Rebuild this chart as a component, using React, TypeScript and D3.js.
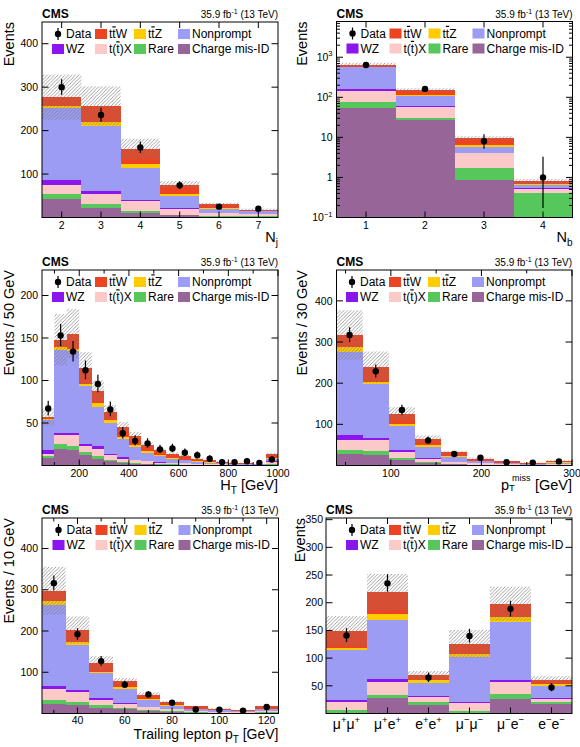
import React from 'react';
import * as d3 from 'd3';

const FONT = "'Liberation Sans', Arial, Helvetica, sans-serif";

// stacking order from bottom: Charge mis-ID, Rare, t(t)X, WZ, Nonprompt, ttZ, ttW
const PROCESS_COLORS = ['#976598', '#56c75b', '#fcc9c9', '#8a15ee', '#9c9cf5', '#ffcc00', '#ec4423'];

// ---------- Panel 1: N_j ----------
const NJ_BINS = [2, 3, 4, 5, 6, 7];
const NJ_DATA = [300, 236, 161, 74, 25, 20];
const NJ_UNC = [52, 45, 23, 8, 3.5, 2.5];
const NJ_CMID = [43, 23, 10.4, 5, 1.5, 1];
const NJ_RARE = [12, 7, 4.6, 1.6, 2, 2];
const NJ_TTX = [20.5, 25, 22, 13.4, 6, 5.5];
const NJ_WZ = [10, 5, 2.5, 2, 0.5, 0.5];
const NJ_NP = [166.5, 150, 75.1, 28, 10.5, 6];
const NJ_TTZ = [4, 9, 9.2, 5, 2.3, 1];
const NJ_TTW = [21, 38, 34.5, 20.5, 7.5, 2];

// ---------- Panel 2: N_b ----------
const NB_BINS = [1, 2, 3, 4];
const NB_DATA = [640, 162, 8, 1];
const NB_UNC = [75, 16, 1.1, 0.12];
const NB_CMID = [54, 26.6, 0.87, 0];
const NB_RARE = [22, 3.8, 0.84, 0.41];
const NB_TTX = [65, 26.6, 2.35, 0.11];
const NB_WZ = [20, 5, 0.05, 0.01];
const NB_NP = [400, 43, 1.5, 0.12];
const NB_TTZ = [14, 7, 0.95, 0.04];
const NB_TTW = [80, 40, 3.05, 0.11];

// ---------- Panel 3: H_T (50 GeV bins, 50-1000) ----------
const HT_DATA = [67, 153, 134, 112, 96, 66, 38, 29, 26, 19, 20, 15, 12, 8, 4, 4, 5, 3, 7];
const HT_UNC = [10, 30, 29, 19, 13, 8, 6, 4.5, 3, 2, 1.5, 1.2, 1, 0.8, 0.6, 0.5, 0.4, 0.3, 1.5];
const HT_CMID = [8.6, 20, 18, 12.6, 8, 5, 3, 2, 1.5, 1, 1, 0.8, 0.5, 0.4, 0.3, 0.3, 0.2, 0.2, 1];
const HT_RARE = [2.8, 5, 5, 2.8, 3, 2, 1.5, 1, 0.7, 0.5, 0.4, 0.2, 0.3, 0.2, 0.2, 0.1, 0.1, 0.1, 0.6];
const HT_TTX = [2.6, 11, 13, 7, 9, 5, 3.5, 3, 2.8, 2, 1.6, 1.5, 1.2, 0.9, 0.7, 0.6, 0.5, 0.3, 2.4];
const HT_WZ = [4.5, 2.5, 2, 3.2, 3, 2, 1.5, 1, 0.5, 0.5, 0.2, 0.2, 0.2, 0.1, 0.1, 0.1, 0.1, 0.1, 1];
const HT_NP = [35.5, 97.9, 96.4, 67.4, 46, 36, 21.5, 15, 9.5, 7, 4.3, 3.3, 2.3, 1.6, 1.2, 0.9, 0.7, 0.5, 2.5];
const HT_TTZ = [1, 2.6, 2.6, 3, 4.5, 3, 2.4, 2, 2, 1, 1, 1, 0.5, 0.4, 0.3, 0.2, 0.2, 0.2, 1];
const HT_TTW = [2, 9, 18, 18.4, 13.8, 10, 11.8, 11, 7, 6, 5.5, 4, 3, 2.4, 1.7, 1.3, 1, 0.8, 5];

// ---------- Panel 4: p_T^miss (9 bins, 40-300) ----------
const MET_DATA = [317, 229, 135, 61, 28, 19, 8, 7, 10];
const MET_UNC = [60, 38, 16, 8, 4, 2.5, 1.5, 1, 1.5];
const MET_CMID = [27, 25, 14.4, 6.4, 3, 1.5, 1, 0.7, 1];
const MET_RARE = [10, 10.4, 4.9, 2.4, 1, 0.7, 0.4, 0.3, 0.5];
const MET_TTX = [24, 25.6, 13.7, 8.2, 4, 2.8, 1.6, 1, 2];
const MET_WZ = [12.3, 6, 4, 2, 1, 0.5, 0.3, 0.2, 0.5];
const MET_NP = [201.7, 131.5, 59, 26, 11, 4.5, 2.2, 1.4, 2.5];
const MET_TTZ = [12, 5.5, 5.6, 4, 2, 1, 0.7, 0.4, 1];
const MET_TTW = [30, 35, 24.2, 16.3, 10, 6, 3.8, 2.5, 4.5];

// ---------- Panel 5: trailing lepton p_T (10 GeV bins, 25-125) ----------
const PT_DATA = [316, 192, 127, 70, 46, 26, 10, 9, 7, 16];
const PT_UNC = [58, 33, 17.5, 8, 5, 3, 2, 1.5, 1, 2];
const PT_CMID = [22, 20, 14.3, 10, 6, 3.5, 2, 1.5, 1, 2];
const PT_RARE = [10.5, 7.8, 5.5, 3.5, 2, 1.5, 1, 0.5, 0.5, 1];
const PT_TTX = [27, 23.8, 11.9, 9.5, 7, 5, 3, 2, 1.5, 3];
const PT_WZ = [6.5, 6.4, 5.6, 3, 1, 1, 0.5, 0.5, 0.2, 1];
const PT_NP = [198, 107, 60.3, 33.5, 17, 8, 4.5, 3, 1.8, 4];
const PT_TTZ = [8, 8, 4, 4, 2, 1.5, 1, 0.5, 0.5, 1];
const PT_TTW = [25.6, 29.4, 19.8, 14.3, 11, 7, 5, 3.5, 2.5, 5];

// ---------- Panel 6: lepton flavour / charge channels ----------
const CH_LABELS = ['μ+μ+', 'μ+e+', 'e+e+', 'μ−μ−', 'μ−e−', 'e−e−'];
const CH_DATA = [141, 235, 65, 140, 189, 47];
const CH_UNC = [27, 33, 8, 25, 31, 6.5];
const CH_CMID = [0, 27.8, 14.6, 0, 26.7, 16.4];
const CH_RARE = [6.5, 4.8, 6, 3.7, 9, 4.2];
const CH_TTX = [15, 23.4, 9, 15.1, 21, 6.1];
const CH_WZ = [2.3, 6.7, 1.2, 2.2, 4.2, 0.8];
const CH_NP = [91, 106.3, 24.7, 80.8, 104.1, 22];
const CH_TTZ = [3, 10, 4.2, 6, 10, 3];
const CH_TTW = [31, 40, 9, 18.1, 23, 8.5];

// tick values
const NJ_YTICKS = [100, 200, 300, 400];
const NB_YTICKS = [0.1, 1, 10, 100, 1000];
const HT_YTICKS = [50, 100, 150, 200];
const MET_YTICKS = [100, 200, 300, 400];
const PT_YTICKS = [100, 200, 300, 400];
const CH_YTICKS = [50, 100, 150, 200, 250, 300, 350];
const HT_XTICKS = [200, 400, 600, 800, 1000];
const HT_XMINOR = [100, 300, 500, 700, 900];
const MET_XTICKS = [100, 200, 300];
const MET_XMINOR = [50, 150, 250];
const PT_XTICKS = [40, 60, 80, 100, 120];
const PT_XMINOR = [30, 50, 70, 90, 110];

type Frame = { x: number; y: number; w: number; h: number };

function garwood(n: number): [number, number] {
  if (n <= 0) return [0, 1.84];
  const lo = n * Math.pow(1 - 1 / (9 * n) - 1 / (3 * Math.sqrt(n)), 3);
  const m = n + 1;
  const hi = m * Math.pow(1 - 1 / (9 * m) + 1 / (3 * Math.sqrt(m)), 3);
  return [lo, hi];
}

const Bar = ({ children }: { children: any }) => (
  <tspan style={{ textDecoration: 'overline' }}>{children}</tspan>
);

const LEGEND = [
  { kind: 'data', color: '', label: <>Data</> },
  { kind: 'box', color: PROCESS_COLORS[6], label: <>t<Bar>t</Bar>W</> },
  { kind: 'box', color: PROCESS_COLORS[5], label: <>t<Bar>t</Bar>Z</> },
  { kind: 'box', color: PROCESS_COLORS[4], label: <>Nonprompt</> },
  { kind: 'box', color: PROCESS_COLORS[3], label: <>WZ</> },
  { kind: 'box', color: PROCESS_COLORS[2], label: <>t(<Bar>t</Bar>)X</> },
  { kind: 'box', color: PROCESS_COLORS[1], label: <>Rare</> },
  { kind: 'box', color: PROCESS_COLORS[0], label: <>Charge mis-ID</> },
];
const LEG_COL = [-226, -183, -144, -100];

function Legend({ frame }: { frame: Frame }) {
  const R = frame.x + frame.w;
  return (
    <g>
      {LEGEND.map((e, i) => {
        const col = i % 4;
        const row = Math.floor(i / 4);
        const bx = R + LEG_COL[col];
        const cy = frame.y + 12 + row * 15;
        return (
          <g key={i}>
            {e.kind === 'data' ? (
              <g>
                <line x1={bx + 6} x2={bx + 6} y1={cy - 6} y2={cy + 6} stroke="#000" strokeWidth={1.2} />
                <circle cx={bx + 6} cy={cy} r={3.2} fill="#000" />
              </g>
            ) : (
              <rect x={bx} y={cy - 5} width={12} height={10} fill={e.color} />
            )}
            <text x={bx + 14} y={cy + 4.3} fontSize={12}>{e.label}</text>
          </g>
        );
      })}
    </g>
  );
}

type PanelProps = {
  id: string;
  frame: Frame;
  edges: number[];
  stacks: number[][];
  data: number[];
  unc: number[];
  log?: boolean;
  yDomain: [number, number];
  yTicks: number[];
  yMinor?: number[];
  yTickLabel: (v: number) => any;
  yLabelGap?: number;
  xMajor: number[];
  xMinor?: number[];
  xTickLabels: { v: number; node: any; size?: number; dy?: number }[];
  xLabelDy?: number;
  xTitle?: any;
  yTitle: string;
  yTitleX: number;
};

function Panel(p: PanelProps) {
  const { frame, edges, stacks, data, unc, log, yDomain } = p;
  const x = d3.scaleLinear().domain([edges[0], edges[edges.length - 1]]).range([frame.x, frame.x + frame.w]);
  const y: any = log
    ? d3.scaleLog().domain(yDomain).range([frame.y + frame.h, frame.y])
    : d3.scaleLinear().domain(yDomain).range([frame.y + frame.h, frame.y]);
  const ymin = yDomain[0];
  const ys = (v: number) => y(Math.max(v, ymin));
  const nb = edges.length - 1;
  const bottom = frame.y + frame.h;
  const right = frame.x + frame.w;
  const gap = p.yLabelGap ?? 4;

  const rects: any[] = [];
  const totals: number[] = [];
  for (let i = 0; i < nb; i++) {
    let cum = 0;
    stacks.forEach((arr, k) => {
      const v = arr[i];
      const y0 = cum;
      cum += v;
      if (v <= 0) return;
      if (log && cum <= ymin) return;
      rects.push(
        <rect
          key={`s${k}-${i}`}
          x={x(edges[i])}
          width={x(edges[i + 1]) - x(edges[i])}
          y={ys(cum)}
          height={Math.max(0, ys(y0) - ys(cum))}
          fill={PROCESS_COLORS[k]}
          shapeRendering="crispEdges"
        />
      );
    });
    totals.push(cum);
  }

  const clipId = `clip-${p.id}`;
  return (
    <g>
      <defs>
        <clipPath id={clipId}>
          <rect x={frame.x} y={frame.y} width={frame.w} height={frame.h} />
        </clipPath>
      </defs>
      <g clipPath={`url(#${clipId})`}>
        {rects}
        {totals.map((t, i) => (
          <rect
            key={`h${i}`}
            x={x(edges[i])}
            width={x(edges[i + 1]) - x(edges[i])}
            y={ys(t + unc[i])}
            height={Math.max(0, ys(t - unc[i]) - ys(t + unc[i]))}
            fill="url(#hatch)"
          />
        ))}
        {data.map((d, i) => {
          if (d <= 0) return null;
          const cx = x((edges[i] + edges[i + 1]) / 2);
          const [lo, hi] = garwood(d);
          return (
            <g key={`d${i}`}>
              <line x1={cx} x2={cx} y1={ys(lo)} y2={ys(hi)} stroke="#000" strokeWidth={1.2} />
              <circle cx={cx} cy={y(d)} r={3.2} fill="#000" />
            </g>
          );
        })}
      </g>
      {/* frame */}
      <rect x={frame.x} y={frame.y} width={frame.w} height={frame.h} fill="none" stroke="#000" strokeWidth={1} />
      {/* y ticks */}
      {p.yTicks.map((t) => (
        <g key={`yt${t}`}>
          <line x1={frame.x} x2={frame.x + 6.5} y1={y(t)} y2={y(t)} stroke="#000" />
          <line x1={right} x2={right - 6.5} y1={y(t)} y2={y(t)} stroke="#000" />
          <text x={frame.x - gap} y={y(t) + 3.7} fontSize={10.5} textAnchor="end">{p.yTickLabel(t)}</text>
        </g>
      ))}
      {(p.yMinor || []).map((t, i) => (
        <g key={`ym${i}`}>
          <line x1={frame.x} x2={frame.x + 3.5} y1={y(t)} y2={y(t)} stroke="#000" />
          <line x1={right} x2={right - 3.5} y1={y(t)} y2={y(t)} stroke="#000" />
        </g>
      ))}
      {/* x ticks */}
      {p.xMajor.map((t) => (
        <g key={`xt${t}`}>
          <line x1={x(t)} x2={x(t)} y1={bottom} y2={bottom - 6} stroke="#000" />
          <line x1={x(t)} x2={x(t)} y1={frame.y} y2={frame.y + 6} stroke="#000" />
        </g>
      ))}
      {(p.xMinor || []).map((t) => (
        <g key={`xm${t}`}>
          <line x1={x(t)} x2={x(t)} y1={bottom} y2={bottom - 3.5} stroke="#000" />
          <line x1={x(t)} x2={x(t)} y1={frame.y} y2={frame.y + 3.5} stroke="#000" />
        </g>
      ))}
      {p.xTickLabels.map((l, i) => (
        <text key={`xl${i}`} x={x(l.v)} y={bottom + (l.dy ?? p.xLabelDy ?? 11.5)} fontSize={l.size ?? 10.5} textAnchor="middle">
          {l.node}
        </text>
      ))}
      {/* titles */}
      {p.xTitle}
      <text
        transform={`translate(${p.yTitleX},${frame.y}) rotate(-90)`}
        textAnchor="end"
        fontSize={14.5}
      >
        {p.yTitle}
      </text>
      <text x={frame.x} y={frame.y - 4} fontSize={12} fontWeight="bold">CMS</text>
      <text x={right} y={frame.y - 4} fontSize={10} textAnchor="end">
        35.9 fb<tspan dy={-4} fontSize={7}>-1</tspan><tspan dy={4}> (13 TeV)</tspan>
      </text>
      <Legend frame={frame} />
    </g>
  );
}

const linLabel = (v: number) => String(v);
const logLabel = (v: number) => {
  if (v === 1) return '1';
  if (v === 10) return '10';
  const e = Math.round(Math.log10(v));
  return (
    <>
      10<tspan dy={-4.5} fontSize={7.5}>{e < 0 ? '−' + Math.abs(e) : e}</tspan>
    </>
  );
};

function chLabel(s: string) {
  const chars = Array.from(s);
  return chars.map((c, i) => {
    const sup = c === '+' || c === '−';
    const prevSup = i > 0 && (chars[i - 1] === '+' || chars[i - 1] === '−');
    let dy = 0;
    if (sup && !prevSup) dy = -5.5;
    if (!sup && prevSup) dy = 5.5;
    return (
      <tspan key={i} dy={dy} fontSize={sup ? 9.5 : 14}>{c}</tspan>
    );
  });
}

const LOG_MINOR: number[] = [];
[0.1, 1, 10, 100, 1000].forEach((d) => {
  for (let k = 2; k <= 9; k++) LOG_MINOR.push(d * k);
});

export default function App() {
  const F1: Frame = { x: 42, y: 22, w: 236, h: 195.5 };
  const F2: Frame = { x: 336.5, y: 21.5, w: 236, h: 196 };
  const F3: Frame = { x: 42, y: 270, w: 236, h: 195.5 };
  const F4: Frame = { x: 336.5, y: 270, w: 235.5, h: 195.5 };
  const F5: Frame = { x: 42, y: 518, w: 236.5, h: 195.5 };
  const F6: Frame = { x: 326, y: 518, w: 246, h: 195.5 };

  const njEdges = d3.range(NJ_BINS.length + 1).map((i) => NJ_BINS[0] - 0.5 + i);
  const nbEdges = d3.range(NB_BINS.length + 1).map((i) => NB_BINS[0] - 0.5 + i);
  const htEdges = d3.range(HT_DATA.length + 1).map((i) => 50 + 50 * i);
  const metEdges = d3.range(MET_DATA.length + 1).map((i) => 40 + (260 / MET_DATA.length) * i);
  const ptEdges = d3.range(PT_DATA.length + 1).map((i) => 25 + 10 * i);
  const chEdges = d3.range(CH_LABELS.length + 1);

  const titleSize = 14.5;

  return (
    <svg
      width={580}
      height={747}
      style={{ position: 'absolute', left: 0, top: 0, fontFamily: FONT }}
    >
      <defs>
        <pattern id="hatch" patternUnits="userSpaceOnUse" width={3.5} height={3.5}>
          <path d="M-1,1 l2,-2 M0,3.5 l3.5,-3.5 M2.5,4.5 l2,-2" stroke="#7a7a7a" strokeWidth={0.7} />
        </pattern>
      </defs>
      <rect x={0} y={0} width={580} height={747} fill="#fff" />

      <Panel
        id="nj"
        frame={F1}
        edges={njEdges}
        stacks={[NJ_CMID, NJ_RARE, NJ_TTX, NJ_WZ, NJ_NP, NJ_TTZ, NJ_TTW]}
        data={NJ_DATA}
        unc={NJ_UNC}
        yDomain={[0, 450]}
        yTicks={NJ_YTICKS}
        yTickLabel={linLabel}
        xMajor={NJ_BINS}
        xTickLabels={NJ_BINS.map((v) => ({ v, node: String(v) }))}
        xTitle={
          <text x={F1.x + F1.w} y={F1.y + F1.h + 24.5} fontSize={titleSize} textAnchor="end">
            N<tspan dy={4} fontSize={10}>j</tspan>
          </text>
        }
        yTitle="Events"
        yTitleX={13.5}
      />
      <Panel
        id="nb"
        frame={F2}
        edges={nbEdges}
        stacks={[NB_CMID, NB_RARE, NB_TTX, NB_WZ, NB_NP, NB_TTZ, NB_TTW]}
        data={NB_DATA}
        unc={NB_UNC}
        log
        yDomain={[0.1, 7800]}
        yTicks={NB_YTICKS}
        yMinor={LOG_MINOR.filter((v) => v < 7800)}
        yTickLabel={logLabel}
        xMajor={NB_BINS}
        xTickLabels={NB_BINS.map((v) => ({ v, node: String(v) }))}
        xTitle={
          <text x={F2.x + F2.w} y={F2.y + F2.h + 24.5} fontSize={titleSize} textAnchor="end">
            N<tspan dy={4} fontSize={10}>b</tspan>
          </text>
        }
        yTitle="Events"
        yTitleX={306.5}
      />
      <Panel
        id="ht"
        frame={F3}
        edges={htEdges}
        stacks={[HT_CMID, HT_RARE, HT_TTX, HT_WZ, HT_NP, HT_TTZ, HT_TTW]}
        data={HT_DATA}
        unc={HT_UNC}
        yDomain={[0, 230]}
        yTicks={HT_YTICKS}
        yTickLabel={linLabel}
        xMajor={HT_XTICKS}
        xMinor={HT_XMINOR}
        xLabelDy={11}
        xTickLabels={HT_XTICKS.map((v) => ({ v, node: String(v) }))}
        xTitle={
          <text x={F3.x + F3.w} y={F3.y + F3.h + 24.5} fontSize={titleSize} textAnchor="end">
            H<tspan dy={4} fontSize={10}>T</tspan><tspan dy={-4}> [GeV]</tspan>
          </text>
        }
        yTitle="Events / 50 GeV"
        yTitleX={13.5}
      />
      <Panel
        id="met"
        frame={F4}
        edges={metEdges}
        stacks={[MET_CMID, MET_RARE, MET_TTX, MET_WZ, MET_NP, MET_TTZ, MET_TTW]}
        data={MET_DATA}
        unc={MET_UNC}
        yDomain={[0, 475]}
        yTicks={MET_YTICKS}
        yTickLabel={linLabel}
        xMajor={MET_XTICKS}
        xMinor={MET_XMINOR}
        xLabelDy={11}
        xTickLabels={MET_XTICKS.map((v) => ({ v, node: String(v) }))}
        xTitle={
          <g fontSize={titleSize}>
            <text x={F4.x + F4.w - 71} y={F4.y + F4.h + 24}>p</text>
            <text x={F4.x + F4.w - 63} y={F4.y + F4.h + 25.5} fontSize={9.5}>T</text>
            <text x={F4.x + F4.w - 60} y={F4.y + F4.h + 15} fontSize={9}>miss</text>
            <text x={F4.x + F4.w} y={F4.y + F4.h + 24} textAnchor="end">[GeV]</text>
          </g>
        }
        yTitle="Events / 30 GeV"
        yTitleX={306.5}
      />
      <Panel
        id="pt"
        frame={F5}
        edges={ptEdges}
        stacks={[PT_CMID, PT_RARE, PT_TTX, PT_WZ, PT_NP, PT_TTZ, PT_TTW]}
        data={PT_DATA}
        unc={PT_UNC}
        yDomain={[0, 474]}
        yTicks={PT_YTICKS}
        yTickLabel={linLabel}
        xMajor={PT_XTICKS}
        xMinor={PT_XMINOR}
        xLabelDy={10.5}
        xTickLabels={PT_XTICKS.map((v) => ({ v, node: String(v) }))}
        xTitle={
          <text x={F5.x + F5.w} y={F5.y + F5.h + 25.5} fontSize={14} textAnchor="end">
            Trailing lepton p<tspan dy={4} fontSize={10}>T</tspan><tspan dy={-4}> [GeV]</tspan>
          </text>
        }
        yTitle="Events / 10 GeV"
        yTitleX={13.5}
      />
      <Panel
        id="ch"
        frame={F6}
        edges={chEdges}
        stacks={[CH_CMID, CH_RARE, CH_TTX, CH_WZ, CH_NP, CH_TTZ, CH_TTW]}
        data={CH_DATA}
        unc={CH_UNC}
        yDomain={[0, 353]}
        yTicks={CH_YTICKS}
        yTickLabel={linLabel}
        yLabelGap={3}
        xMajor={CH_LABELS.map((_, i) => i + 0.5)}
        xTickLabels={CH_LABELS.map((s, i) => ({ v: i + 0.5, node: chLabel(s), size: 14, dy: 15 }))}
        yTitle="Events"
        yTitleX={305}
      />
    </svg>
  );
}
